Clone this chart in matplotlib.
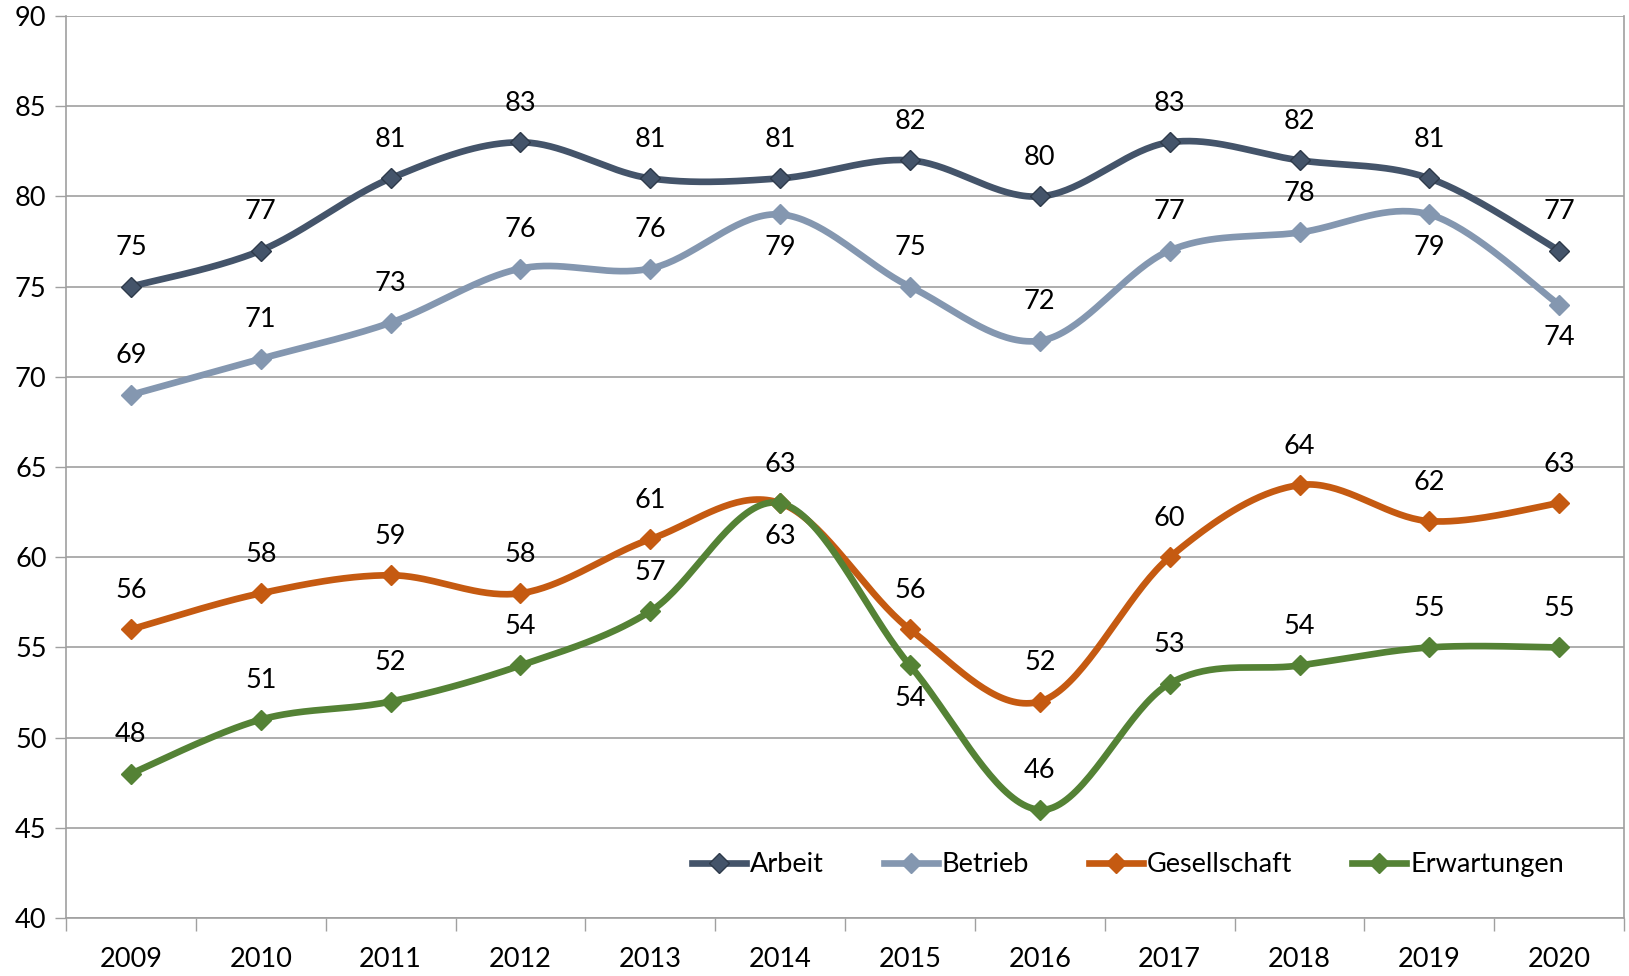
import numpy as np
import matplotlib
matplotlib.use("Agg")
import matplotlib.pyplot as plt
from matplotlib.lines import Line2D

plt.rcParams['font.family'] = ['Lato', 'DejaVu Sans']

years = ["2009", "2010", "2011", "2012", "2013", "2014", "2015", "2016", "2017", "2018", "2019", "2020"]
arbeit = [75, 77, 81, 83, 81, 81, 82, 80, 83, 82, 81, 77]
betrieb = [69, 71, 73, 76, 76, 79, 75, 72, 77, 78, 79, 74]
gesellschaft = [56, 58, 59, 58, 61, 63, 56, 52, 60, 64, 62, 63]
erwartungen = [48, 51, 52, 54, 57, 63, 54, 46, 53, 54, 55, 55]

# label placement: 1 = above, -1 = below
pos_arbeit = [1] * 12
pos_betrieb = [1, 1, 1, 1, 1, -1, 1, 1, 1, 1, -1, -1]
pos_gesellschaft = [1] * 12
pos_erwartungen = [1, 1, 1, 1, 1, -1, -1, 1, 1, 1, 1, 1]

series = [
    ("Arbeit", arbeit, pos_arbeit, "#44546A", "#2E3A4A"),
    ("Betrieb", betrieb, pos_betrieb, "#8497B0", "#8497B0"),
    ("Gesellschaft", gesellschaft, pos_gesellschaft, "#C55A11", "#C55A11"),
    ("Erwartungen", erwartungen, pos_erwartungen, "#548235", "#548235"),
]


def smooth(x, y, n=40):
    x = np.asarray(x, float)
    y = np.asarray(y, float)
    xs, ys = [], []
    N = len(x)
    for i in range(N - 1):
        p0 = np.array([x[max(i - 1, 0)], y[max(i - 1, 0)]])
        p1 = np.array([x[i], y[i]])
        p2 = np.array([x[i + 1], y[i + 1]])
        p3 = np.array([x[min(i + 2, N - 1)], y[min(i + 2, N - 1)]])
        c1 = p1 + (p2 - p0) / 6.0
        c2 = p2 - (p3 - p1) / 6.0
        t = np.linspace(0, 1, n)[:, None]
        b = ((1 - t) ** 3) * p1 + 3 * ((1 - t) ** 2) * t * c1 + 3 * (1 - t) * t ** 2 * c2 + t ** 3 * p2
        if i > 0:
            b = b[1:]
        xs.append(b[:, 0])
        ys.append(b[:, 1])
    return np.concatenate(xs), np.concatenate(ys)


FS = 19.5
fig = plt.figure(figsize=(16.29, 9.76), dpi=100)
ax = fig.add_axes([0.0405, 0.0594, 0.9565, 0.9242])

xpos = np.arange(len(years))
handles = []
for name, vals, pos, col, edge in series:
    sx, sy = smooth(xpos, vals)
    ax.plot(sx, sy, color=col, lw=4.8, solid_capstyle='round', zorder=3)
    ax.plot(xpos, vals, linestyle='none', marker='D', markersize=10.5,
            markerfacecolor=col, markeredgecolor=edge, markeredgewidth=1.0, zorder=4)
    for xi, v, p in zip(xpos, vals, pos):
        off = 28 if p > 0 else -24
        ax.annotate(str(v), (xi, v), xytext=(0, off), textcoords='offset points',
                    ha='center', va='center', fontsize=FS, color='black', zorder=5)
    handles.append(Line2D([0], [0], color=col, lw=4.8, marker='D', markersize=10.5,
                          markerfacecolor=col, markeredgecolor=edge))

ax.set_xlim(-0.5, len(years) - 0.5)
ax.set_ylim(40, 90)
ax.set_yticks(np.arange(40, 91, 5))
ax.set_xticks(xpos)
ax.set_xticklabels(years)
ax.set_xticks(np.arange(-0.5, len(years), 1), minor=True)
ax.tick_params(axis='x', which='major', length=0, labelsize=FS, pad=21)
ax.tick_params(axis='x', which='minor', length=9, color='#A0A0A0', width=1, direction='out')
ax.tick_params(axis='y', length=8, color='#A0A0A0', width=1, labelsize=FS, pad=6)
ax.grid(axis='y', color='#A0A0A0', lw=1.2)
ax.set_axisbelow(True)
for s in ['top']:
    ax.spines[s].set_visible(False)
for s in ['left', 'bottom', 'right']:
    ax.spines[s].set_color('#A0A0A0')
    ax.spines[s].set_linewidth(1.2)

leg = ax.legend(handles, [s[0] for s in series], loc='lower right', bbox_to_anchor=(0.977, 0.018),
                ncol=4, frameon=False, fontsize=FS, handlelength=2.0, handletextpad=0.15,
                columnspacing=2.2)

fig.savefig("out.png", dpi=100)
